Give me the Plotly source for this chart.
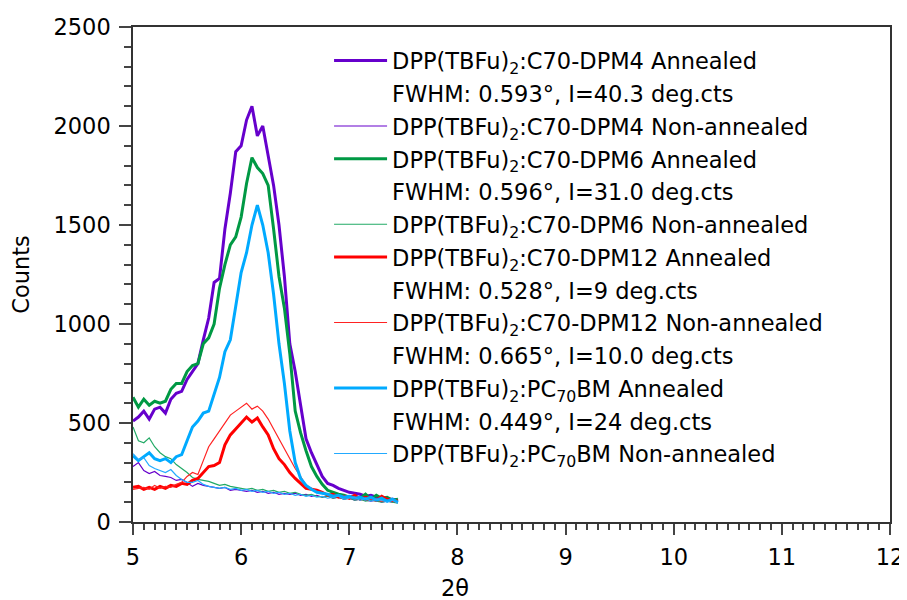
import numpy as np
import plotly.graph_objects as go

# 2theta grid (deg)
two_theta = np.round(np.arange(5.0, 7.46, 0.05), 2)

dpm4_ann = [510, 530, 560, 520, 570, 580, 550, 620, 650, 660,
            720, 760, 800, 920, 1030, 1210, 1230, 1480, 1660, 1870,
            1900, 2030, 2100, 1950, 2000, 1850, 1700, 1500, 1240, 900,
            760, 590, 420, 350, 290, 230, 195, 185, 170, 160,
            150, 145, 140, 130, 135, 125, 120, 115, 115, 110]
dpm4_non = [280, 300, 260, 245, 255, 235, 230, 225, 210, 215,
            200, 180, 195, 185, 180, 175, 170, 175, 160, 165,
            160, 155, 160, 150, 155, 145, 150, 140, 145, 140,
            145, 135, 140, 130, 135, 125, 130, 120, 125, 115,
            120, 110, 115, 110, 105, 110, 100, 105, 100, 100]
dpm6_ann = [630, 580, 620, 590, 610, 600, 610, 670, 700, 700,
            760, 790, 800, 900, 930, 1000, 1180, 1300, 1400, 1440,
            1540, 1710, 1840, 1790, 1760, 1700, 1480, 1240, 1080, 850,
            560, 450, 360, 280, 230, 190, 160, 150, 140, 135,
            125, 130, 120, 140, 115, 135, 120, 125, 110, 115]
dpm6_non = [480, 410, 400, 425, 380, 350, 330, 320, 290, 270,
            250, 225, 215, 210, 205, 195, 185, 190, 180, 175,
            170, 165, 170, 160, 165, 155, 160, 150, 155, 145,
            150, 140, 135, 140, 130, 125, 130, 120, 125, 115,
            120, 110, 115, 105, 110, 105, 100, 105, 100, 95]
dpm12_ann = [175, 180, 165, 175, 165, 180, 170, 185, 180, 195,
             190, 210, 220, 250, 280, 285, 300, 390, 440, 470,
             500, 530, 505, 525, 480, 440, 370, 320, 290, 250,
             220, 195, 170, 165, 160, 150, 135, 140, 125, 130,
             120, 135, 115, 125, 120, 110, 130, 115, 110, 105]
dpm12_non = [165, 170, 175, 165, 185, 170, 180, 175, 190, 200,
             230, 250, 240, 310, 380, 420, 460, 500, 540, 560,
             580, 600, 570, 585, 560, 520, 470, 420, 370, 320,
             270, 230, 185, 170, 155, 145, 140, 130, 135, 120,
             125, 115, 120, 110, 115, 110, 105, 110, 105, 100]
pc70_ann = [335, 310, 330, 350, 320, 310, 320, 300, 330, 340,
            410, 480, 510, 550, 560, 650, 730, 860, 920, 1090,
            1260, 1360, 1500, 1600, 1500, 1360, 1150, 900, 700, 460,
            300, 220, 185, 165, 150, 145, 140, 130, 135, 125,
            130, 120, 125, 115, 125, 110, 120, 105, 115, 100]
pc70_non = [345, 315, 325, 285, 270, 260, 250, 265, 235, 215,
            200, 200, 210, 190, 180, 175, 170, 175, 165, 170,
            160, 165, 155, 160, 150, 155, 145, 150, 140, 145,
            135, 140, 130, 135, 125, 130, 120, 125, 130, 115,
            120, 125, 110, 120, 105, 115, 110, 100, 110, 95]

names = [
    "DPP(TBFu)<sub>2</sub>:C70-DPM4 Annealed",
    "DPP(TBFu)<sub>2</sub>:C70-DPM4 Non-annealed",
    "DPP(TBFu)<sub>2</sub>:C70-DPM6 Annealed",
    "DPP(TBFu)<sub>2</sub>:C70-DPM6 Non-annealed",
    "DPP(TBFu)<sub>2</sub>:C70-DPM12 Annealed",
    "DPP(TBFu)<sub>2</sub>:C70-DPM12 Non-annealed",
    "DPP(TBFu)<sub>2</sub>:PC<sub>70</sub>BM Annealed",
    "DPP(TBFu)<sub>2</sub>:PC<sub>70</sub>BM Non-annealed",
]
# fit notes shown under some legend entries
fwhm_notes = [
    "FWHM: 0.593°, I=40.3 deg.cts", None,
    "FWHM: 0.596°, I=31.0 deg.cts", None,
    "FWHM: 0.528°, I=9 deg.cts",
    "FWHM: 0.665°, I=10.0 deg.cts",
    "FWHM: 0.449°, I=24 deg.cts", None,
]
series = [dpm4_ann, dpm4_non, dpm6_ann, dpm6_non, dpm12_ann, dpm12_non, pc70_ann, pc70_non]
colors = ["#6600cc", "#6600cc", "#009944", "#22aa66", "#ff0000", "#ff2222", "#00aaff", "#22aaff"]
widths = [3, 1.2, 3, 1.2, 3, 1.2, 3, 1.2]

fig = go.Figure()
g = 0
for y, n, c, w, note in zip(series, names, colors, widths, fwhm_notes):
    fig.add_trace(go.Scatter(x=two_theta, y=y, name=n, mode="lines", legendgroup=f"g{g}",
                             line=dict(color=c, width=w)))
    g += 1
    if note:
        fig.add_trace(go.Scatter(x=[None], y=[None], name=note, mode="lines",
                                 legendgroup=f"g{g}", hoverinfo="skip",
                                 line=dict(color="rgba(0,0,0,0)", width=0)))
        g += 1

fnt = dict(family="DejaVu Sans", size=22.5, color="black")
fig.update_layout(
    width=899, height=592,
    margin=dict(l=125, r=17, t=19, b=78, autoexpand=False),
    plot_bgcolor="white", paper_bgcolor="white",
    font=fnt,
    showlegend=True,
    legend=dict(x=0.259, y=0.975, xanchor="left", yanchor="top",
                bgcolor="rgba(0,0,0,0)", itemwidth=53,
                font=fnt, tracegroupgap=0.5),
    annotations=[dict(text="2θ", x=0.425, y=-0.133, xref="paper", yref="paper",
                      xanchor="center", yanchor="middle", showarrow=False, font=fnt)],
)
fig.update_xaxes(range=[5, 12], dtick=1, ticks="outside", ticklen=11, tickwidth=1.5,
                 tickcolor="#444", showline=True, linecolor="#333", linewidth=1.5,
                 mirror=True, showgrid=False, zeroline=False, ticklabelstandoff=3,
                 minor=dict(dtick=0.1, ticks="outside", ticklen=6, tickcolor="#444"))
fig.update_yaxes(range=[0, 2500], dtick=500, ticks="outside", ticklen=12, tickwidth=1.5,
                 tickcolor="#444", showline=True, linecolor="#333", linewidth=1.5,
                 mirror=True, showgrid=False, zeroline=False, ticklabelstandoff=4,
                 minor=dict(dtick=100, ticks="outside", ticklen=7, tickcolor="#444"),
                 title=dict(text="Counts", font=fnt, standoff=30))

fig.write_html("out.html")
